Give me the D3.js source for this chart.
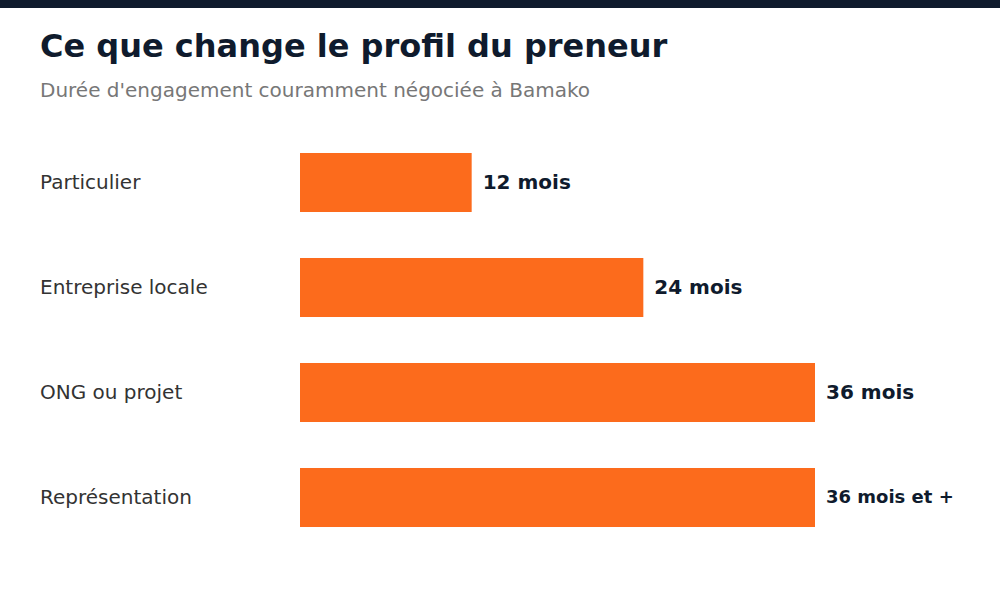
<!DOCTYPE html>
<html>
<head>
<meta charset="utf-8">
<script src="https://cdn.jsdelivr.net/npm/d3@7"></script>
<style>
  body { margin: 0; background: #fff; }
  text { font-family: "DejaVu Sans", sans-serif; }
</style>
</head>
<body>
<svg id="chart" width="1000" height="600"></svg>
<script>
// data
const categories = ["Particulier", "Entreprise locale", "ONG ou projet", "Représentation"];
const months = [12, 24, 36, 36];
const value_labels = ["12 mois", "24 mois", "36 mois", "36 mois et +"];

const svg = d3.select("#chart");

// top band
svg.append("rect")
  .attr("x", 0).attr("y", 0)
  .attr("width", 1000).attr("height", 8)
  .attr("fill", "#0f1b2d");

// title + subtitle
svg.append("text")
  .attr("x", 40).attr("y", 57)
  .attr("font-size", 32).attr("font-weight", "bold")
  .attr("fill", "#0f1b2d")
  .text("Ce que change le profil du preneur");

svg.append("text")
  .attr("x", 40).attr("y", 97)
  .attr("font-size", 20)
  .attr("fill", "#777")
  .text("Durée d'engagement couramment négociée à Bamako");

// scales
var x_scale = d3.scaleLinear().domain([0, 36]).range([300, 815]);
var y_scale = d3.scaleBand()
  .domain(categories)
  .range([130, 550])
  .paddingInner(0.438)
  .paddingOuter(0.219);

var rows = categories.map(function (c, i) {
  return { cat: c, value: months[i], label: value_labels[i] };
});

// category labels
svg.append("g")
  .selectAll(null)
  .data(rows)
  .enter()
  .append("text")
  .attr("x", 40)
  .attr("y", function (d) { return y_scale(d.cat) + y_scale.bandwidth() / 2; })
  .attr("dy", "0.3em")
  .attr("font-size", 20)
  .attr("fill", "#333")
  .text(function (d) { return d.cat; });

// bars
svg.append("g")
  .selectAll(null)
  .data(rows)
  .enter()
  .append("rect")
  .attr("x", x_scale(0))
  .attr("y", function (d) { return y_scale(d.cat); })
  .attr("width", function (d) { return x_scale(d.value) - x_scale(0); })
  .attr("height", y_scale.bandwidth())
  .attr("fill", "#fc6b1c");

// value labels
svg.append("g")
  .selectAll(null)
  .data(rows)
  .enter()
  .append("text")
  .attr("x", function (d) { return x_scale(d.value) + 11; })
  .attr("y", function (d) { return y_scale(d.cat) + y_scale.bandwidth() / 2; })
  .attr("dy", "0.3em")
  .attr("font-size", function (d) { return d.label.length > 8 ? 18 : 20; })
  .attr("font-weight", "bold")
  .attr("fill", "#0f1b2d")
  .text(function (d) { return d.label; });
</script>
</body>
</html>
